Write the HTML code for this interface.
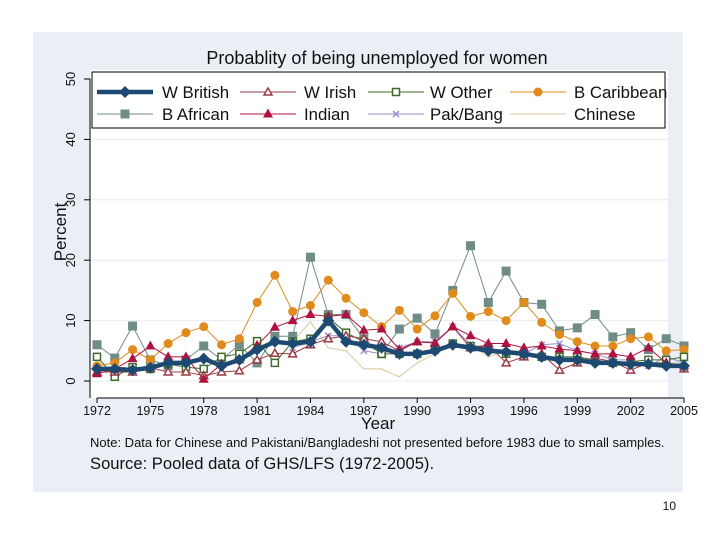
<!DOCTYPE html>
<html><head><meta charset="utf-8">
<style>
body{margin:0;background:#fff;width:720px;height:540px;overflow:hidden;font-family:"Liberation Sans",sans-serif;}
</style></head>
<body>
<svg id="c" width="720" height="540" xmlns="http://www.w3.org/2000/svg">
<rect x="33" y="32" width="650" height="460" fill="#e9eff4"/>
<rect x="90" y="70" width="578" height="328" fill="#fff"/>
<text x="377" y="64" font-size="18" text-anchor="middle" fill="#111">Probablity of being unemployed for women</text>
<g id="grid"></g><g id="axes"></g><g id="series"></g>
<text x="66" y="232" font-size="17" text-anchor="middle" fill="#111" transform="rotate(-90 66 232)">Percent</text>
<text x="378" y="429" font-size="17" text-anchor="middle" fill="#111">Year</text>
<text x="90" y="447" font-size="13" fill="#111">Note: Data for Chinese and Pakistani/Bangladeshi not presented before 1983 due to small samples.</text>
<text x="90" y="469" font-size="16.6" fill="#111">Source: Pooled data of GHS/LFS (1972-2005).</text>
<text x="676" y="510" font-size="12" text-anchor="end" fill="#111">10</text>
<g id="legend"></g>
</svg>
<script>
const years=[];for(let y=1972;y<=2005;y++)years.push(y);
const xTicks=[1972,1975,1978,1981,1984,1987,1990,1993,1996,1999,2002,2005];
const yTicks=[0,10,20,30,40,50];
const wBritish=[2,2,1.8,2.2,3,3,3.7,2.5,3.5,5.2,6.5,6.2,6.5,10,6.5,6,5.5,4.5,4.5,5,6,5.5,5,4.8,4.5,4,3.5,3.5,3,3,2.8,2.8,2.5,2.5];
const wIrish=[1.5,1.5,1.5,2.2,1.5,1.5,0.9,1.5,1.7,3.5,4.6,4.5,6,7,7.5,7,6.5,5,6.5,6.3,9,5.5,6,3,4,4.5,1.8,3,3.8,3.2,1.8,3,3,2];
const wOther=[4,0.7,2.3,2,2.8,2.3,2,4,4.5,6.6,3,6.5,7,10.5,8,6.5,4.5,4.5,4.5,5.2,6.2,5.8,5.5,4.5,4.2,4,4,4,3.5,3,3.2,3.5,3.5,4];
const bCaribbean=[2.5,3,5.2,3.5,6.2,8,9,6,7,13,17.5,11.5,12.5,16.7,13.7,11.3,9,11.7,8.6,10.8,14.5,10.7,11.5,10,13,9.7,7.7,6.5,5.8,5.8,7,7.3,5,5.2];
const bAfrican=[6,3.8,9.1,3.5,2.5,3.5,5.8,3.5,6,3,7.4,7.4,20.5,11,11,7,4.5,8.6,10.4,7.8,15,22.4,13,18.2,13,12.7,8.3,8.8,11,7.3,8,5.2,7,5.8];
const indian=[1.2,2,3.7,5.8,4,4,0.3,2.8,3.5,5.9,8.9,10,11,10.7,11,8.4,8.6,5.2,6.5,6.3,9,7.5,6.2,6.2,5.5,5.8,5.3,5,4.5,4.5,4,5.5,3,2.5];
const pakBang=[null,null,null,null,null,null,null,null,null,null,null,5.5,6.5,7.5,7.5,5,4.5,5.5,6.5,6.5,9,6,5.5,4.8,4.5,6,6.2,5,4.5,3.5,3.5,2.5,4,3];
const chinese=[null,null,null,null,null,null,null,null,null,null,null,6.5,9.8,5.5,5,2,2,0.7,3,4.5,6,6,4,5,5,4,3.5,3,3,3,3,3,3,3];
const NS="http://www.w3.org/2000/svg";
const X=y=>97+(y-1972)*(587/33);
const Y=v=>381-v*6.04;
function mk(tag,attrs,parent){const e=document.createElementNS(NS,tag);for(const k in attrs)e.setAttribute(k,attrs[k]);parent.appendChild(e);return e;}
const grid=document.getElementById('grid'),axes=document.getElementById('axes'),ser=document.getElementById('series'),leg=document.getElementById('legend');
yTicks.forEach(v=>{
 const g=mk('line',{x1:90,x2:668,y1:Y(v),y2:Y(v),stroke:'#e6ecf0','stroke-width':1},grid);
 
 
 const t=mk('line',{x1:84,x2:90,y1:Y(v),y2:Y(v),stroke:'#000'},axes);
 
 
 const l=mk('text',{x:75,y:Y(v),'font-size':13,'text-anchor':'middle',transform:`rotate(-90 75 ${Y(v)})`,fill:'#111'},axes);
 l.textContent=v;
 
 
});
const ya=mk('line',{x1:90,x2:90,y1:Y(50),y2:Y(0)+17,stroke:'#000'},axes);


const xa=mk('line',{x1:X(1972),x2:X(2005),y1:398,y2:398,stroke:'#000'},axes);


xTicks.forEach(v=>{
 const t=mk('line',{x1:X(v),x2:X(v),y1:398,y2:403,stroke:'#000'},axes);
 
 
 const l=mk('text',{x:X(v),y:415,'font-size':12.5,'text-anchor':'middle',fill:'#111'},axes);
 l.textContent=v;
 
 
});
function marker(type,x,y,c,p){
 if(type==='diamond')return mk('path',{d:`M${x} ${y-6}L${x+6} ${y}L${x} ${y+6}L${x-6} ${y}Z`,fill:c},p);
 if(type==='tri')return mk('path',{d:`M${x} ${y-4}L${x+4} ${y+3}L${x-4} ${y+3}Z`,fill:'#fff',stroke:c,'stroke-width':1.5},p);
 if(type==='trif')return mk('path',{d:`M${x} ${y-5.5}L${x+5} ${y+3.5}L${x-5} ${y+3.5}Z`,fill:c},p);
 if(type==='sqo')return mk('rect',{x:x-3.5,y:y-3.5,width:7,height:7,fill:'#fff',stroke:c,'stroke-width':1.5},p);
 if(type==='sq')return mk('rect',{x:x-4.5,y:y-4.5,width:9,height:9,fill:c},p);
 if(type==='dot')return mk('circle',{cx:x,cy:y,r:4.5,fill:c},p);
 if(type==='x')return mk('path',{d:`M${x-3} ${y-3}L${x+3} ${y+3}M${x+3} ${y-3}L${x-3} ${y+3}`,stroke:c,'stroke-width':1.5},p);
 return mk('circle',{cx:x,cy:y,r:0.8,fill:c},p);
}
const defs=[
 ['chinese',chinese,'#d9c89a',1,'none','Chinese'],
 ['pak-bang',pakBang,'#9b8fd0',1,'x','Pak/Bang'],
 ['b-african',bAfrican,'#6f8c86',1,'sq','B African'],
 ['b-caribbean',bCaribbean,'#e08b1c',1,'dot','B Caribbean'],
 ['w-other',wOther,'#3f6b2a',1,'sqo','W Other'],
 ['w-irish',wIrish,'#9a3a44',1,'tri','W Irish'],
 ['indian',indian,'#b0123f',1,'trif','Indian'],
 ['w-british',wBritish,'#1d4a72',4.5,'diamond','W British']
];
defs.forEach(([n,vals,c,w,m])=>{
 const g=mk('g',{},ser);
 
 
 let d='';vals.forEach((v,i)=>{if(v==null)return;d+=(d?'L':'M')+X(years[i])+' '+Y(v);});
 const pl=mk('path',{d:d,fill:'none',stroke:c,'stroke-width':w},g);
 
 
 vals.forEach((v,i)=>{if(v==null)return;const mm=marker(m,X(years[i]),Y(v),c,g);
  
  });
});
const lb=mk('rect',{x:92,y:72,width:573,height:56,fill:'#fff',stroke:'#000','stroke-width':1},leg);


const order=[7,5,4,3,2,6,1,0];
const lineX=[97,240,368,510],textX=[162,304,430,574];
order.forEach((di,k)=>{
 const [n,,c,w,m,label]=defs[di];
 const col=k%4,row=Math.floor(k/4);
 const x0=lineX[col],y0=92+row*22;
 const g=mk('g',{},leg);
 
 
 mk('line',{x1:x0,x2:x0+56,y1:y0,y2:y0,stroke:c,'stroke-width':w},g);
 marker(m,x0+28,y0,c,g);
 const t=mk('text',{x:textX[col],y:y0+6,'font-size':16.8,fill:'#111'},g);
 t.textContent=label;
});
</script>
</body></html>
